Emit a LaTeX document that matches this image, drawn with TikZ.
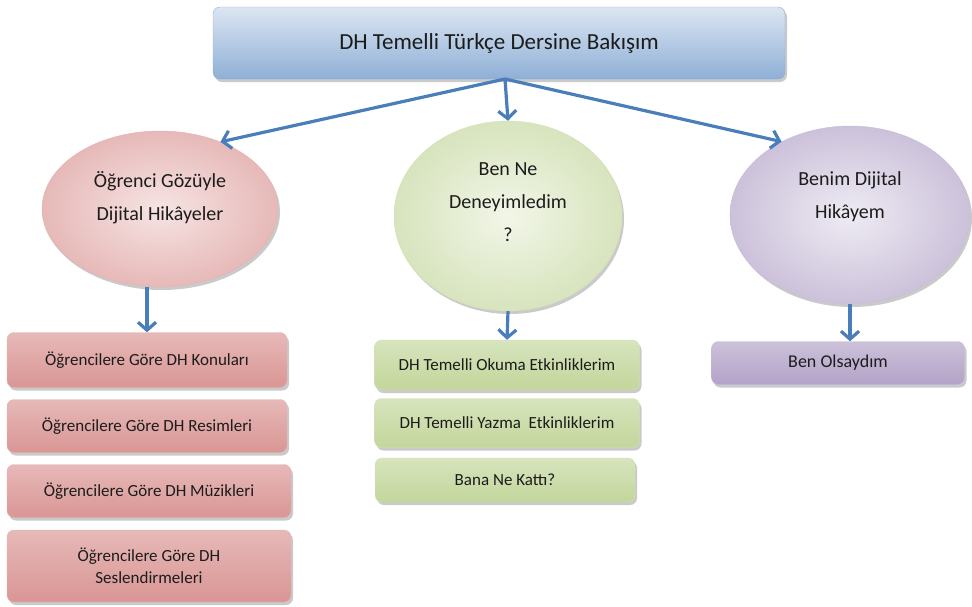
\documentclass[tikz,border=0pt]{standalone}
\usepackage{fontspec}
\setmainfont{Carlito}
\usetikzlibrary{shapes.geometric,shadows,arrows.meta}
\definecolor{okmavi}{HTML}{4A7EBB}
\definecolor{yazi}{HTML}{1C1C1C}
\definecolor{maviA}{HTML}{DCE6F2}
\definecolor{maviB}{HTML}{B9CDE5}
\definecolor{maviC}{HTML}{8EAFD6}
\definecolor{pembeA}{HTML}{F6E4E3}
\definecolor{pembeB}{HTML}{E6B9B8}
\definecolor{pembeC}{HTML}{D99694}
\definecolor{yesilA}{HTML}{F2F6E8}
\definecolor{yesilB}{HTML}{D7E4BD}
\definecolor{yesilC}{HTML}{C3D69B}
\definecolor{morA}{HTML}{EEEBF3}
\definecolor{morB}{HTML}{CCC1DA}
\definecolor{morC}{HTML}{B3A2C7}

\begin{document}
\begin{tikzpicture}[x=1pt,y=-1pt,
		golge/.style={drop shadow={shadow xshift=2pt,shadow yshift=-3pt,opacity=.35,fill=black!60}},
		kutu/.style={rectangle,rounded corners=7pt,inner sep=0pt,align=center,text=yazi,font=\fontsize{17}{22}\selectfont,golge},
		elips/.style={ellipse,inner sep=0pt,align=center,text=yazi,text depth=0pt,font=\fontsize{20}{33}\selectfont,golge},
		pembe/.style={draw=pembeC!70,top color=pembeB,middle color=pembeA,bottom color=pembeC},
		yesil/.style={draw=yesilC!70,top color=yesilB,middle color=yesilA,bottom color=yesilC},
		mor/.style={draw=morC!70,top color=morB,middle color=morA,bottom color=morC},
		pembeE/.style={draw=pembeC!70,inner color=pembeA,outer color=pembeB},
		yesilE/.style={draw=yesilC!70,inner color=yesilA,outer color=yesilB},
		morE/.style={draw=morC!70,inner color=morA,outer color=morB},
		ok/.style={draw=okmavi,line width=3.2pt,-{Straight Barb[length=8pt,width=18pt]}}]
	\useasboundingbox (0,0) rectangle (972,606);
	% ana kutu
	\node[kutu,draw=maviC,top color=maviA,middle color=maviB,bottom color=maviC,
		minimum width=572pt,minimum height=72pt,font=\fontsize{23}{28}\selectfont] (ana) at (499,43) {DH Temelli Türkçe Dersine Bakışım};
	\coordinate (catal) at (505,79);
	% elipsler
	\node[elips,pembeE,minimum width=236pt,minimum height=156pt,text height=22pt] (sol) at (160,209) {Öğrenci Gözüyle\\Dijital Hikâyeler};
	\node[elips,yesilE,minimum width=228pt,minimum height=190pt,text height=50pt] (orta) at (508,216) {Ben Ne\\Deneyimledim\\?};
	\node[elips,morE,minimum width=240pt,minimum height=178pt,text height=6pt] (sag) at (850,215) {Benim Dijital\\Hikâyem};
	% sol kutular
	\node[kutu,pembe,minimum width=280pt,minimum height=55pt] (s1) at (147,360) {Öğrencilere Göre DH Konuları};
	\node[kutu,pembe,minimum width=280pt,minimum height=53pt] (s2) at (147,426) {Öğrencilere Göre DH Resimleri};
	\node[kutu,pembe,minimum width=284pt,minimum height=53pt] (s3) at (149,491) {Öğrencilere Göre DH Müzikleri};
	\node[kutu,pembe,minimum width=284pt,minimum height=72pt] (s4) at (149,566) {Öğrencilere Göre DH\\Seslendirmeleri};
	% orta kutular
	\node[kutu,yesil,minimum width=265pt,minimum height=50pt] (o1) at (507,365) {DH Temelli Okuma Etkinliklerim};
	\node[kutu,yesil,minimum width=265pt,minimum height=49pt] (o2) at (507,423) {DH Temelli Yazma\ \ Etkinliklerim};
	\node[kutu,yesil,minimum width=260pt,minimum height=44pt] (o3) at (505,480) {Bana Ne Kattı?};
	% sag kutu
	\node[kutu,mor,minimum width=253pt,minimum height=43pt,font=\fontsize{18}{22}\selectfont] (r1) at (838,363) {Ben Olsaydım};
	% oklar
	\draw[ok] (catal) -- (sol.48);
	\draw[ok] (catal) -- (orta.north);
	\draw[ok] (catal) -- (sag.133);
	\draw[ok] (s1.north |- sol.south) -- (s1.north);
	\draw[ok] (orta.south) -- (o1.north);
	\draw[ok] (sag.south) -- (sag.south |- r1.north);
\end{tikzpicture}
\end{document}
